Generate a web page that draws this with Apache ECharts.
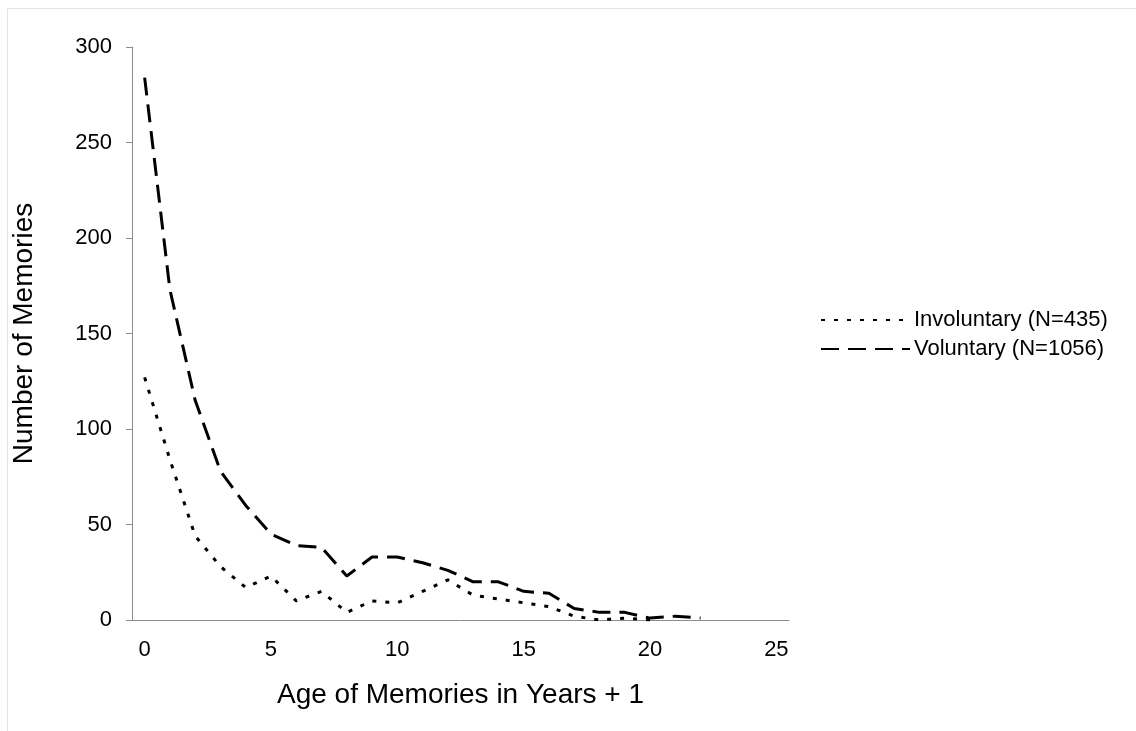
<!DOCTYPE html>
<html>

<head>
    <meta charset="utf-8">
    <script src="https://cdn.jsdelivr.net/npm/echarts@6/dist/echarts.min.js"></script>
    <style>
        body { margin: 0; background: #fff; }
    </style>
</head>

<body>
    <div id="main" style="width: 1136px;height:731px;"></div>
    <script type="text/javascript">
        // 0..25 categories (age in years + 1)
        var ages = [];
        for (var i = 0; i <= 25; i++) ages.push(String(i));

        var involuntary = [127, 84, 44, 28, 17, 23, 10, 15, 4, 10, 9, 15, 21, 13, 11, 9, 7, 2, 0, 1, 0];
        var voluntary = [284, 173, 115, 78, 60, 45, 39, 38, 23, 33, 33, 30, 26, 20, 20, 15, 14, 6, 4, 4, 1, 2, 1];

        var seriesNames = ['Involuntary (N=435)', 'Voluntary (N=1056)'];

        var myChart = echarts.init(document.getElementById('main'));
        var font = 'Liberation Sans, Arial, sans-serif';

        option = {
            backgroundColor: '#fff',
            textStyle: { fontFamily: font },
            graphic: [{
                type: 'rect',
                shape: { x: 7.5, y: 8.5, width: 1200, height: 800 },
                style: { fill: 'none', stroke: '#e3e3e3', lineWidth: 1 },
                silent: true
            }],
            grid: { left: 132, right: 347, top: 47, bottom: 111 },
            legend: {
                orient: 'vertical',
                left: 815,
                top: 304,
                itemWidth: 89,
                itemHeight: 14,
                itemGap: 7,
                itemStyle: { opacity: 0 },
                textStyle: { fontSize: 22, color: '#000', fontFamily: font, padding: [0, 0, 0, -1] },
                data: seriesNames
            },
            xAxis: {
                type: 'category',
                data: ages,
                boundaryGap: true,
                name: 'Age of Memories in Years + 1',
                nameLocation: 'middle',
                nameGap: 61,
                nameTextStyle: { fontSize: 28, color: '#000', fontFamily: font },
                axisLine: { lineStyle: { color: '#8c8c8c', width: 1 } },
                axisTick: { interval: 0, length: 6, lineStyle: { color: '#8c8c8c' } },
                axisLabel: { interval: 4, fontSize: 22, color: '#000', margin: 19 },
                splitLine: { show: false }
            },
            yAxis: {
                type: 'value',
                min: 0,
                max: 300,
                interval: 50,
                name: 'Number of Memories',
                nameLocation: 'middle',
                nameGap: 94,
                nameTextStyle: { fontSize: 28, color: '#000', fontFamily: font },
                axisLine: { show: true, lineStyle: { color: '#8c8c8c', width: 1 } },
                axisTick: { show: true, length: 6, lineStyle: { color: '#8c8c8c' } },
                axisLabel: { fontSize: 22, color: '#000', margin: 20 },
                splitLine: { show: false }
            },
            series: [{
                name: seriesNames[0],
                type: 'line',
                data: involuntary,
                symbol: 'none',
                lineStyle: { color: '#000', width: 3, type: [4, 9] },
                itemStyle: { color: '#000' }
            }, {
                name: seriesNames[1],
                type: 'line',
                data: voluntary,
                symbol: 'none',
                lineStyle: { color: '#000', width: 3, type: [18, 9] },
                itemStyle: { color: '#000' }
            }]
        };

        myChart.setOption(option);
    </script>
</body>

</html>
